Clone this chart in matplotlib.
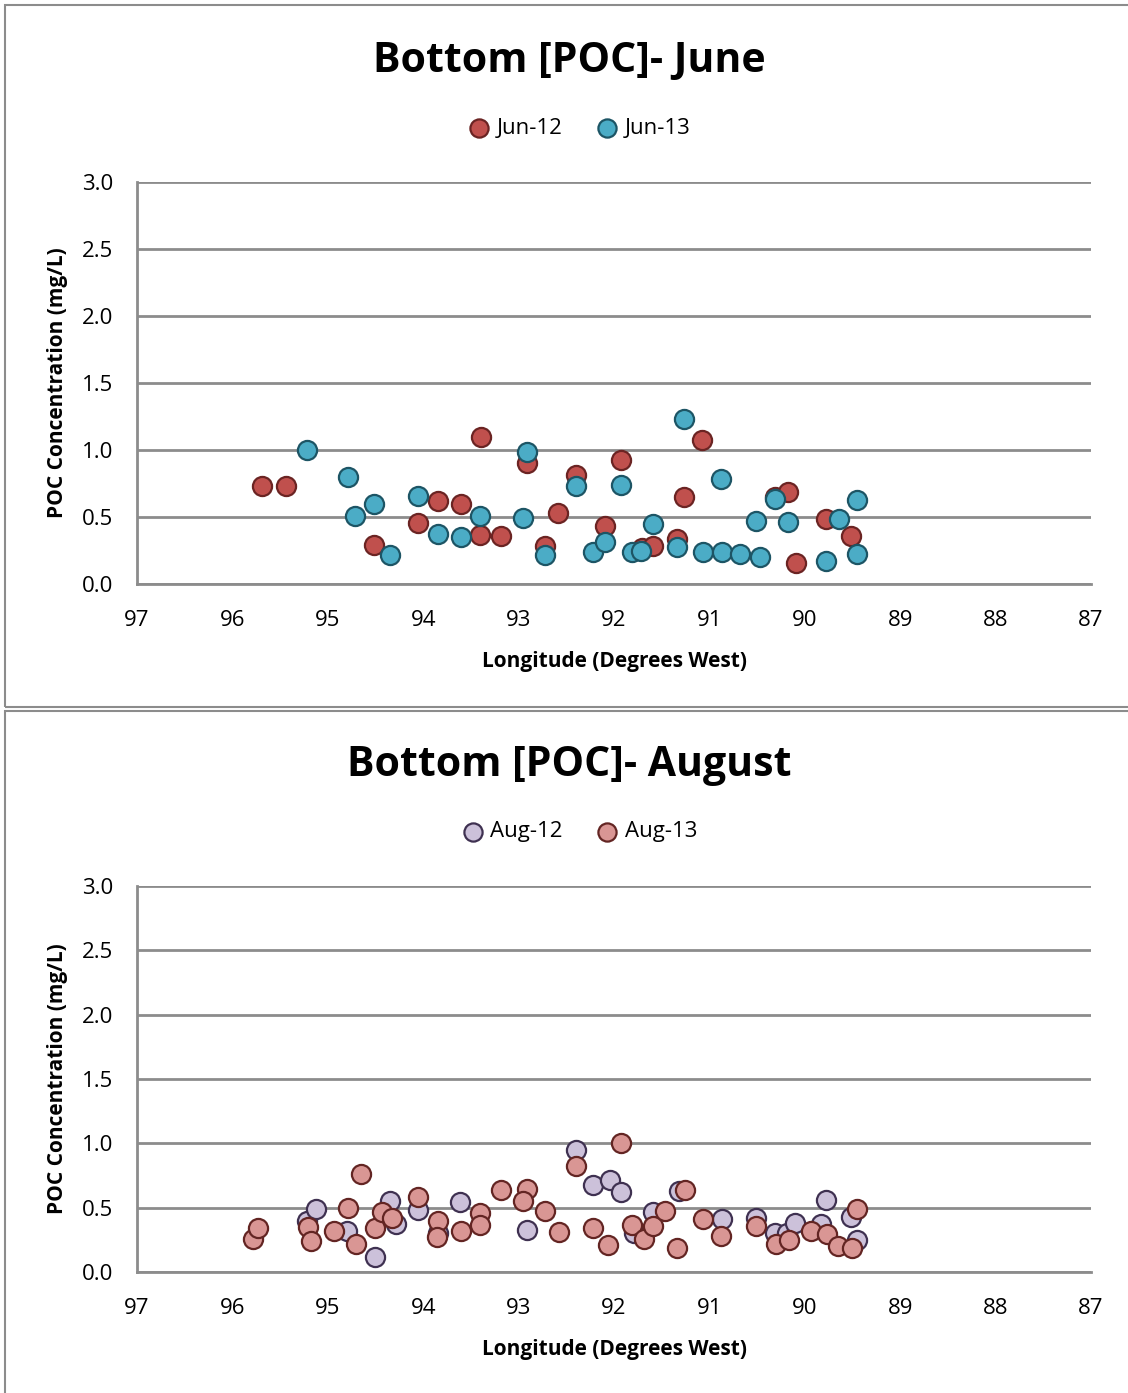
import matplotlib.pyplot as plt
from matplotlib.patches import Rectangle

plt.rcParams['font.family'] = ['Open Sans', 'DejaVu Sans']

# June data (longitude deg W, POC mg/L)
jun12_lon = [95.69, 95.44, 94.52, 94.05, 93.84, 93.60, 93.39, 93.40, 93.18, 92.91,
             92.72, 92.59, 92.40, 92.09, 91.93, 91.71, 91.59, 91.34, 91.27, 91.08,
             90.31, 90.18, 90.09, 89.78, 89.52]
jun12_poc = [0.73, 0.73, 0.29, 0.455, 0.62, 0.60, 1.10, 0.365, 0.36, 0.90,
             0.28, 0.53, 0.81, 0.43, 0.925, 0.27, 0.28, 0.335, 0.65, 1.075,
             0.65, 0.69, 0.16, 0.485, 0.36]
jun13_lon = [95.22, 94.79, 94.71, 94.52, 94.35, 94.05, 93.84, 93.60, 93.40, 92.95,
             92.91, 92.72, 92.40, 92.22, 92.09, 91.93, 91.81, 91.72, 91.59, 91.34,
             91.27, 91.07, 90.88, 90.87, 90.68, 90.47, 90.51, 90.31, 90.18, 89.78,
             89.64, 89.45, 89.45]
jun13_poc = [1.0, 0.80, 0.51, 0.60, 0.215, 0.66, 0.375, 0.35, 0.51, 0.49,
             0.985, 0.215, 0.73, 0.24, 0.31, 0.74, 0.24, 0.245, 0.45, 0.275,
             1.23, 0.24, 0.785, 0.24, 0.225, 0.20, 0.47, 0.635, 0.46, 0.17,
             0.485, 0.63, 0.225]

# August data
aug12_lon = [95.22, 95.12, 94.80, 94.35, 94.28, 94.51, 94.05, 93.84, 93.61, 92.91,
             92.40, 92.22, 92.04, 91.93, 91.59, 91.79, 91.32, 90.87, 90.51, 90.31,
             90.19, 90.10, 89.83, 89.78, 89.52, 89.45]
aug12_poc = [0.40, 0.49, 0.32, 0.55, 0.37, 0.12, 0.48, 0.305, 0.545, 0.33,
             0.95, 0.68, 0.715, 0.625, 0.47, 0.30, 0.63, 0.41, 0.42, 0.30,
             0.30, 0.38, 0.37, 0.56, 0.43, 0.245]
aug13_lon = [95.78, 95.73, 95.21, 95.18, 94.94, 94.79, 94.65, 94.70, 94.51, 94.43,
             94.33, 94.05, 93.84, 93.86, 93.60, 93.40, 93.40, 93.18, 92.91, 92.95,
             92.72, 92.58, 92.40, 92.22, 92.06, 91.93, 91.81, 91.69, 91.59, 91.47,
             91.34, 91.26, 91.07, 90.88, 90.51, 90.30, 90.17, 89.94, 89.77, 89.65,
             89.51, 89.45]
aug13_poc = [0.26, 0.34, 0.35, 0.24, 0.32, 0.495, 0.76, 0.22, 0.34, 0.47,
             0.42, 0.58, 0.40, 0.27, 0.32, 0.455, 0.365, 0.64, 0.645, 0.55,
             0.475, 0.31, 0.82, 0.34, 0.21, 1.0, 0.365, 0.255, 0.36, 0.475,
             0.19, 0.64, 0.41, 0.28, 0.36, 0.22, 0.245, 0.32, 0.295, 0.205,
             0.19, 0.49]

y_ticks = [0.0, 0.5, 1.0, 1.5, 2.0, 2.5, 3.0]
x_ticks = [97, 96, 95, 94, 93, 92, 91, 90, 89, 88, 87]

W, H = 1128, 1393
fig = plt.figure(figsize=(W / 100, H / 100), dpi=100)

# chart frames
for (y0, y1) in [(5, 707), (711, 1398)]:
    fig.add_artist(Rectangle((5 / W, 1 - y1 / H), 1.2, (y1 - y0) / H,
                             transform=fig.transFigure, fill=False,
                             edgecolor='#8c8c8c', linewidth=1.5))


def make_panel(top, bottom, title, title_y, leg_y, series):
    ax = fig.add_axes([137 / W, 1 - bottom / H, 954 / W, (bottom - top) / H])
    for lon, poc, fc, ec, lab in series:
        ax.scatter(lon, poc, s=190, facecolor=fc, edgecolor=ec, linewidth=1.6,
                   label=lab, zorder=3)
    ax.set_xlim(97, 87)
    ax.set_ylim(0, 3.0)
    ax.set_xticks(x_ticks)
    ax.set_yticks(y_ticks)
    ax.set_yticklabels(['%.1f' % v for v in y_ticks])
    ax.tick_params(length=0, labelsize=16)
    ax.tick_params(axis='y', pad=17)
    ax.tick_params(axis='x', pad=19)
    ax.grid(axis='y', color='#8c8c8c', linewidth=2)
    for s in ['top', 'right']:
        ax.spines[s].set_visible(False)
    for s in ['left', 'bottom']:
        ax.spines[s].set_color('#8c8c8c')
        ax.spines[s].set_linewidth(2)
    ax.set_xlabel('Longitude (Degrees West)', fontsize=15, fontweight='bold', labelpad=14)
    ax.set_ylabel('POC Concentration (mg/L)', fontsize=15, fontweight='bold', labelpad=10)
    ax.set_axisbelow(True)
    fig.text(569 / W, 1 - title_y / H, title, ha='center', va='center',
             fontsize=29.5, fontweight='bold')
    ax.legend(loc='center', bbox_to_anchor=(574 / W, 1 - leg_y / H),
              bbox_transform=fig.transFigure, ncol=2, frameon=False,
              fontsize=16, handletextpad=-0.2, columnspacing=1.0,
              scatterpoints=1, markerscale=0.95)
    return ax


make_panel(182, 584, 'Bottom [POC]- June', 61, 128,
           [(jun12_lon, jun12_poc, '#C0504D', '#6b2423', 'Jun-12'),
            (jun13_lon, jun13_poc, '#4BACC6', '#1d5565', 'Jun-13')])
make_panel(886, 1272, 'Bottom [POC]- August', 765, 832,
           [(aug12_lon, aug12_poc, '#CCC1DA', '#3F3151', 'Aug-12'),
            (aug13_lon, aug13_poc, '#D99694', '#632523', 'Aug-13')])

fig.savefig('out.png', dpi=100)
